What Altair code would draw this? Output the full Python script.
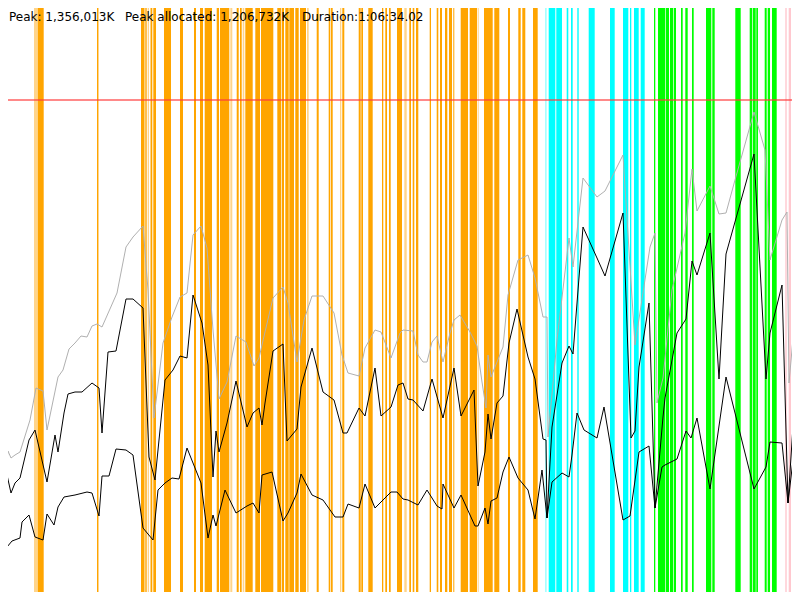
import altair as alt
import pandas as pd

# ---- horizontal positions are time ticks (0..800), heights are memory levels (0..600) ----

# activity bands: start, end, kind
band_start = [0, 6.3, 34, 37.5, 97, 98, 141, 145.3, 147.7, 150.5, 153.3, 164, 180, 194,
              200, 204.7, 216.7, 220, 230.3, 236.7, 240, 242.7, 245.3, 255.3, 261, 277.3, 282, 285.3,
              289.3, 295.3, 300, 307, 316.7, 328.7, 330.7, 340, 342.3, 358.7, 361.3, 368.3, 382, 385.3,
              389, 397,
              400, 404.3, 409.3, 412.7, 416, 429.7, 436.7, 440, 445, 449, 453.3, 460.7, 469.7, 477.7,
              484, 494.3, 508, 518.3, 522.3, 533,
              545, 548.7, 556.3, 566.7, 571, 577.3, 588.7, 610, 623, 630, 634, 640.7,
              654, 658, 665.7, 670, 673.7, 681, 685.3, 692, 706, 712.3, 735.3, 749.7, 753, 756.3,
              764.7, 767.7, 772,
              785.3, 788.7, 792.7, 798]
band_end = [2, 7.7, 37, 43.7, 98, 99, 144.5, 146.7, 149, 152.3, 156, 171, 183, 196,
            203, 212, 219, 229.3, 232.3, 238.7, 241.7, 244.3, 252.7, 260, 273.3, 281.3, 284, 288.7,
            294, 298.7, 306, 308.7, 318.7, 330, 332.7, 341.3, 344.3, 360.7, 363, 372.7, 383.3, 387,
            390.7, 400,
            402, 406.7, 411, 414.3, 418.3, 431, 438.3, 442, 447.3, 452, 454.3, 468, 477, 478.7,
            492.7, 499.3, 510, 520.7, 525.3, 537.7,
            546.7, 555.3, 562, 568.3, 572.7, 578.7, 594.7, 614.7, 628.3, 631.3, 638.7, 644.7,
            655.3, 665, 669, 673, 676, 682.7, 687.7, 693.7, 711.3, 714.7, 740.7, 752.3, 755.7, 758,
            766.7, 770, 776.7,
            786.7, 791, 795, 800]
band_kind = (["orange", "orange", "orange_light", "orange", "orange", "orange_light", "orange", "orange",
              "orange_light", "orange", "orange", "orange", "orange", "orange",
              "orange", "orange", "orange", "orange", "orange_light", "orange", "orange", "orange_light",
              "orange", "orange", "orange", "orange", "orange", "orange", "orange", "orange", "orange",
              "orange_light", "orange", "orange", "orange", "orange_light", "orange", "orange", "orange",
              "orange", "orange", "orange", "orange", "orange",
              "orange", "orange_light", "orange", "orange", "orange", "orange", "orange", "orange",
              "orange", "orange", "orange", "orange", "orange", "orange_light", "orange", "orange",
              "orange", "orange", "orange", "orange",
              "cyan_light"] + ["cyan"] * 11 + ["green"] * 17 + ["pink"] * 4)

# three memory series (x, level)
total_x = [0, 8, 11, 15, 20, 30, 36, 43, 47, 58, 63, 69, 75, 81, 87, 92, 97, 102, 117, 126, 133, 143,
           148, 154, 163, 172, 180, 187, 193, 201, 207, 213, 219, 227, 236, 246, 254, 259, 265, 273,
           283, 288, 297, 304, 312, 323, 334, 342, 348, 359, 365, 375, 381, 391, 400, 403, 413, 418,
           423, 427, 432, 437, 443, 450, 454, 460, 470, 477, 482, 486, 488, 491, 503, 508, 518, 528,
           535, 543, 547, 548, 557, 569, 573, 583, 597, 605, 623, 635, 650, 655, 657, 663, 672, 685,
           692, 697, 710, 719, 726, 735, 754, 765, 770, 782, 787, 789, 800]
total_y = [528, 451, 458, 455, 452, 420, 388, 391, 430, 377, 370, 349, 343, 336, 337, 326, 324, 327,
           293, 247, 237, 226, 290, 418, 343, 317, 297, 293, 235, 226, 248, 330, 399, 382, 336, 342,
           366, 358, 332, 298, 287, 303, 362, 320, 296, 296, 313, 355, 373, 376, 348, 330, 332, 358,
           333, 330, 331, 355, 362, 362, 342, 336, 362, 333, 320, 315, 332, 346, 382, 408, 355, 377,
           347, 295, 260, 255, 278, 317, 317, 437, 340, 238, 267, 178, 197, 191, 155, 345, 247, 233,
           403, 378, 290, 233, 169, 211, 186, 214, 213, 180, 112, 150, 260, 220, 212, 383, 260]

used_x = [0, 4, 7, 11, 15, 20, 29, 35, 47, 55, 58, 64, 68, 75, 82, 92, 99, 102, 108, 116, 126, 133,
          143, 149, 155, 165, 173, 180, 187, 193, 202, 208, 213, 216, 219, 227, 236, 247, 253, 259,
          262, 265, 273, 283, 287, 297, 301, 312, 323, 334, 343, 347, 359, 365, 375, 381, 391, 398,
          403, 408, 413, 423, 432, 443, 454, 461, 474, 478, 485, 488, 491, 497, 503, 509, 517, 528,
          535, 543, 546, 547, 552, 562, 569, 573, 583, 597, 605, 623, 631, 635, 639, 649, 655, 663,
          665, 677, 686, 692, 697, 710, 719, 726, 754, 766, 770, 782, 788, 800]
used_y = [540, 538, 475, 493, 483, 478, 440, 430, 482, 435, 452, 413, 394, 392, 392, 383, 388, 433,
          352, 351, 299, 299, 308, 457, 480, 380, 370, 356, 358, 295, 323, 365, 477, 431, 452, 423,
          381, 427, 413, 408, 425, 403, 351, 344, 441, 429, 387, 348, 392, 400, 433, 433, 408, 416,
          368, 416, 407, 385, 383, 399, 400, 411, 379, 418, 368, 416, 390, 486, 452, 414, 439, 403,
          396, 343, 309, 357, 379, 439, 440, 518, 427, 363, 346, 354, 227, 258, 276, 213, 438, 431,
          367, 303, 508, 417, 398, 333, 319, 261, 275, 233, 379, 254, 154, 379, 333, 285, 503, 318]

live_x = [0, 3, 7, 12, 20, 22, 29, 35, 43, 47, 54, 58, 64, 75, 87, 92, 99, 102, 109, 116, 126, 133,
          143, 153, 158, 165, 172, 179, 187, 201, 208, 213, 216, 225, 236, 247, 253, 259, 262, 272,
          283, 288, 297, 301, 312, 323, 335, 343, 348, 359, 365, 375, 391, 397, 403, 408, 418, 427,
          437, 442, 443, 454, 461, 475, 478, 485, 488, 491, 497, 503, 509, 518, 528, 535, 542, 547,
          552, 562, 569, 572, 577, 584, 597, 604, 623, 630, 639, 649, 655, 662, 665, 677, 686, 691,
          697, 710, 726, 754, 766, 770, 782, 788, 793, 800]
live_y = [558, 537, 547, 541, 538, 522, 515, 537, 540, 514, 525, 507, 497, 495, 492, 493, 516, 476,
          476, 449, 450, 455, 528, 540, 490, 483, 478, 479, 448, 483, 538, 515, 526, 490, 513, 506,
          503, 513, 475, 472, 521, 513, 493, 474, 495, 500, 517, 517, 504, 508, 484, 508, 492, 492,
          499, 500, 505, 490, 506, 509, 484, 508, 495, 526, 526, 508, 524, 501, 498, 472, 457, 478,
          490, 519, 470, 518, 482, 473, 477, 455, 413, 430, 438, 407, 520, 516, 452, 446, 508, 467,
          465, 459, 431, 438, 418, 489, 377, 489, 467, 442, 443, 503, 460, 503]

limit_level = 100
header_labels = ["Peak: 1,356,013K", "Peak allocated: 1,206,732K", "Duration:1:06:34.02"]
header_x = [9, 125, 302]
header_y = [21, 21, 21]

# ---- tables ----
H = 600  # levels are read downward from the top of the picture; flip them to heights
bands = pd.DataFrame({"start": band_start, "end": band_end, "kind": band_kind})
total = pd.DataFrame({"t": total_x, "m": [H - v for v in total_y]})
used = pd.DataFrame({"t": used_x, "m": [H - v for v in used_y]})
live = pd.DataFrame({"t": live_x, "m": [H - v for v in live_y]})
limit = pd.DataFrame({"m": [H - limit_level]})
header = pd.DataFrame({"t": header_x, "m": [H - v for v in header_y], "label": header_labels})

xs = alt.Scale(domain=[8, 792], nice=False, zero=False)
ys = alt.Scale(domain=[8, 592], nice=False, zero=False)

band_layer = alt.Chart(bands).mark_rect(clip=True).encode(
    x=alt.X("start:Q", scale=xs, axis=None),
    x2="end:Q",
    color=alt.Color("kind:N", legend=None,
                    scale=alt.Scale(domain=["orange", "orange_light", "cyan", "cyan_light", "green", "pink"],
                                    range=["#FFA500", "#FFD48A", "#00FFFF", "#A8FFFF", "#00FF00", "#FFC8CF"])),
)

limit_layer = alt.Chart(limit).mark_rule(color="#FF3B3B", strokeWidth=1.5, opacity=0.8).encode(
    y=alt.Y("m:Q", scale=ys, axis=None)
)

def line_layer(df, color):
    return alt.Chart(df).mark_line(color=color, strokeWidth=1, clip=True).encode(
        x=alt.X("t:Q", scale=xs, axis=None),
        y=alt.Y("m:Q", scale=ys, axis=None),
    )

text_layer = alt.Chart(header).mark_text(align="left", baseline="alphabetic", font="DejaVu Sans",
                                         fontSize=12, color="black").encode(
    x=alt.X("t:Q", scale=xs, axis=None),
    y=alt.Y("m:Q", scale=ys, axis=None),
    text="label:N",
)

chart = alt.layer(
    band_layer,
    limit_layer,
    line_layer(total, "#B0B0B0"),
    line_layer(used, "#000000"),
    line_layer(live, "#000000"),
    text_layer,
).properties(
    width=784, height=584,
    autosize=alt.AutoSizeParams(type="none"),
    padding=0,
    background="white",
).configure_view(stroke=None)

chart.save("out.html", embed_options={"renderer": "svg", "actions": False})
